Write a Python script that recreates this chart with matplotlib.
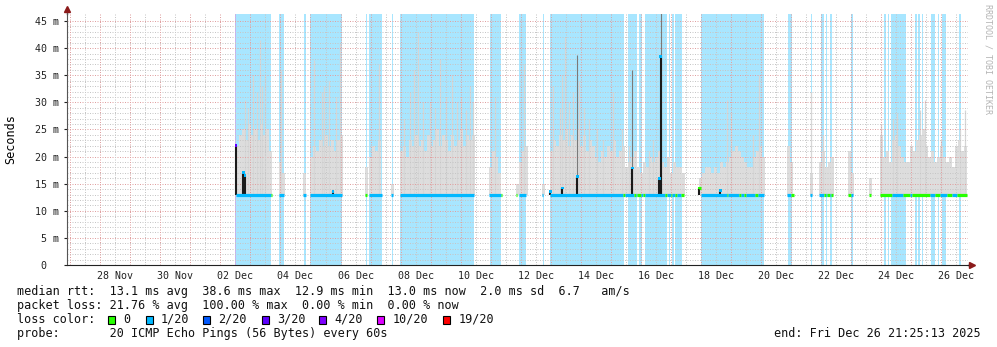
import numpy as np
import matplotlib
matplotlib.use("Agg")
import matplotlib.pyplot as plt
from matplotlib.patches import Rectangle

plt.rcParams['font.family'] = ['DejaVu Sans Mono']

# time in days since 26 Nov 2025 00:00
t_start = 0.8925   # 26 Nov 21:25:13
t_end = 30.8925    # 26 Dec 21:25:13

day_ticks = [2.5, 4.5, 6.5, 8.5, 10.5, 12.5, 14.5, 16.5, 18.5, 20.5, 22.5, 24.5, 26.5, 28.5, 30.5]
day_labels = ["28 Nov", "30 Nov", "02 Dec", "04 Dec", "06 Dec", "08 Dec", "10 Dec", "12 Dec",
              "14 Dec", "16 Dec", "18 Dec", "20 Dec", "22 Dec", "24 Dec", "26 Dec"]

ms_ticks = [0, 5, 10, 15, 20, 25, 30, 35, 40, 45]
ms_labels = ["0  ", "5 m", "10 m", "15 m", "20 m", "25 m", "30 m", "35 m", "40 m", "45 m"]

loss_labels = ["0", "1/20", "2/20", "3/20", "4/20", "10/20", "19/20"]
loss_colors = ["#26ff00", "#00b8ff", "#0059ff", "#5e00ff", "#7e00ff", "#dd00ff", "#ff0000"]

# loss bars (full height), index into loss_colors
band_start = [6.50, 6.53, 7.96, 8.78, 8.97, 10.86, 10.96, 11.70, 11.98, 14.98, 15.93, 15.99,
              16.75, 16.97, 19.56, 19.95, 20.15, 20.93, 21.05, 21.15, 21.99, 24.90, 25.67,
              25.99, 26.18, 26.29, 26.99, 28.10, 28.22, 28.33, 28.74, 29.13, 29.23, 29.37,
              29.65, 29.89, 30.04, 30.59]
band_end = [6.53, 7.68, 8.12, 8.85, 10.06, 10.89, 11.37, 11.75, 14.44, 15.34, 15.97, 16.17,
            16.79, 19.45, 19.88, 20.04, 20.88, 20.98, 21.12, 21.38, 24.10, 25.04, 25.71,
            26.09, 26.21, 26.37, 27.06, 28.17, 28.25, 28.72, 28.83, 29.20, 29.29, 29.41,
            29.80, 29.94, 30.15, 30.66]
band_loss = [3] + [1] * 37

# smoke: one value per 0.1 day starting at smoke_start, in ms
smoke_start = [6.52, 7.96, 8.75, 8.97, 10.82, 10.96, 11.68, 11.98, 14.94, 15.84, 15.93,
               16.72, 16.97, 21.92, 24.86, 25.63, 25.94, 26.89, 27.61, 27.96]
smoke_tops = [
    [22, 24, 25, 23, 26, 24, 25, 23, 26, 24, 25, 21],
    [19, 17],
    [17],
    [20, 22, 21, 23, 22, 24, 22, 23, 21, 23, 24],
    [18],
    [20, 22, 21, 23],
    [15],
    [21, 22, 20, 23, 22, 24, 22, 23, 21, 24, 22, 23, 25, 22, 24, 23, 21, 24, 22, 23, 25, 22,
     24, 23, 24],
    [18, 21, 20, 17],
    [15],
    [19, 21, 22],
    [15],
    [21, 23, 22, 24, 23, 25, 22, 24, 23, 25, 22, 24, 21, 23, 22, 20, 19, 21, 20, 22, 21, 23,
     20, 21, 22, 18, 19, 20, 21, 18, 17, 19, 18, 20, 19, 20, 21, 19, 18, 20, 17, 19, 18, 18, 17],
    [16, 17, 18, 18, 17, 18, 17, 19, 18, 19, 20, 21, 22, 21, 20, 19, 18, 18, 20, 21, 22, 20],
    [22, 19],
    [17],
    [19, 21, 18, 19, 20],
    [21, 17],
    [16],
    [24, 20, 21, 19, 23, 24, 22, 20, 19, 19, 22, 21, 23, 24, 25, 22, 20, 21, 19, 20, 22, 20,
     19, 20, 18, 22, 23, 21, 22],
]

# single tall smoke strands
peak_t = [6.82, 6.93, 7.09, 7.21, 7.32, 7.38, 7.49, 8.02, 9.11, 9.37, 9.45, 9.62, 9.85, 9.99,
          11.28, 12.10, 12.30, 12.45, 12.58, 12.75, 12.98, 13.15, 13.31, 13.52, 13.72, 13.88,
          14.02, 14.18, 14.30, 14.40, 15.13, 16.11, 17.08, 17.30, 17.39, 17.48, 17.62, 17.75,
          17.95, 18.10, 18.28, 18.55, 18.75, 19.07, 19.37, 19.61, 20.28, 20.40, 22.88, 22.99,
          23.74, 23.94, 25.67, 26.05, 27.99, 28.39, 28.53, 29.30, 29.47, 29.99, 30.63, 30.79]
peak_ms = [30.5, 29, 35, 32, 41.5, 33, 35, 36, 37.8, 32, 33, 34, 31, 41,
           37, 27, 32, 36, 43, 30, 30, 29, 38, 31, 35, 30,
           31, 28.6, 33, 30, 31, 37, 33, 29, 35, 42, 30, 32,
           34, 29, 27, 25, 23, 32, 25, 22, 21, 23, 30.4, 28,
           24, 35, 32, 24, 26, 27, 28, 28.6, 30.4, 23, 25, 28.6]

# darker strands above the median spikes
strand_t = [17.88, 19.72, 20.66]
strand_ms = [38.7, 36.0, 46.5]

# median rtt runs, loss index and value in ms
run_start = [6.52, 7.69, 7.96, 8.75, 8.97, 10.82, 10.96, 11.68, 11.98, 14.94, 15.34, 15.84,
             15.93, 16.72, 16.97, 19.42, 19.47, 19.78, 19.83, 19.87, 19.99, 20.08, 20.14,
             20.81, 20.87, 21.01, 21.05, 21.14, 21.19, 21.34, 21.92, 22.01, 22.86, 22.91,
             23.27, 23.33, 23.44, 23.49, 23.80, 23.91, 24.86, 25.00, 25.63, 25.94, 26.09,
             26.17, 26.21, 26.29, 26.33, 26.89, 26.99, 27.61, 27.96, 28.35, 28.74, 28.96,
             29.02, 29.63, 29.80, 29.96, 30.19, 30.35, 30.52]
run_end = [7.69, 7.72, 8.12, 8.85, 10.06, 10.89, 11.37, 11.75, 14.44, 15.34, 15.37, 15.88,
           16.17, 16.75, 19.42, 19.47, 19.78, 19.83, 19.87, 19.99, 20.08, 20.14, 20.81,
           20.87, 21.01, 21.05, 21.14, 21.19, 21.34, 21.45, 22.01, 22.86, 22.91, 23.27,
           23.33, 23.44, 23.49, 23.80, 23.91, 24.10, 25.00, 25.09, 25.71, 26.09, 26.17,
           26.21, 26.29, 26.33, 26.39, 26.99, 27.07, 27.65, 28.35, 28.74, 28.96, 29.02,
           29.63, 29.80, 29.96, 30.19, 30.35, 30.52, 30.85]
run_loss = [1, 0, 1, 1, 1, 0, 1, 1, 1, 1, 0, 0,
            1, 1, 1, 0, 1, 0, 1, 0, 1, 0, 1,
            0, 1, 0, 1, 0, 1, 0, 0, 1, 0, 1,
            0, 1, 0, 1, 0, 1, 1, 0, 1, 1, 0,
            1, 0, 1, 0, 0, 1, 0, 0, 1, 0, 1,
            0, 1, 0, 1, 0, 1, 0]
run_ms = [13.0] * 30 + [14.2] + [13.0] * 32

# median jumps
spike_t = [6.52, 6.76, 6.82, 9.75, 16.98, 17.39, 17.88, 19.72, 20.61, 20.66, 21.94, 22.64]
spike_ms = [22.0, 17.0, 16.5, 13.6, 13.5, 14.2, 16.3, 17.9, 16.0, 38.5, 14.2, 13.7]
spike_loss = [3, 1, 1, 1, 1, 1, 1, 1, 1, 1, 0, 1]

base = 13.0
step = 0.1

fig = plt.figure(figsize=(9.97, 3.47), dpi=100)
ax = fig.add_axes([67 / 997, 82 / 347, 901 / 997, 251 / 347])
ax.set_xlim(t_start, t_end)
ax.set_ylim(0, 46.3)

for s, e, lvl in zip(band_start, band_end, band_loss):
    ax.axvspan(s, e, color=loss_colors[lvl], alpha=0.34, lw=0, zorder=1)

for s, tops in zip(smoke_start, smoke_tops):
    x = s + step * np.arange(len(tops))
    ax.bar(x, np.array(tops) - base, bottom=base, width=step, align='edge',
           color='#dddddd', lw=0, zorder=2)
ax.vlines(peak_t, base, peak_ms, color='#d6d6d6', lw=0.9, zorder=2)

# grid
dots = (0, (1, 1.5))
for v in range(1, 46):
    col = '#e0a0a0' if v % 5 == 0 else '#c6c6c6'
    ax.axhline(v, color=col, lw=0.72, ls=dots, zorder=3)
for d in range(1, 31):
    ax.axvline(d + 0.5, color='#c6c6c6', lw=0.72, ls=dots, zorder=3)
    ax.axvline(d, color='#e0a0a0', lw=0.72, ls=dots, zorder=3)

ax.vlines(strand_t, base, strand_ms, color='#7a7a7a', lw=0.8, zorder=4)
ax.vlines(spike_t, base, spike_ms, color='#1a1a1a', lw=1.5, zorder=4)
for s, e, lvl, ms in zip(run_start, run_end, run_loss, run_ms):
    ax.hlines(ms, s, e, color=loss_colors[lvl], lw=2.3, zorder=5)
ax.scatter(spike_t, spike_ms, marker='s', s=4, lw=0, zorder=6,
           c=[loss_colors[l] for l in spike_loss])

for side in ('top', 'right'):
    ax.spines[side].set_visible(False)
ax.spines['left'].set_color('#555555')
ax.spines['bottom'].set_color('#222222')
ax.spines['left'].set_zorder(7)
ax.spines['bottom'].set_zorder(7)
ax.plot([0, 0], [1, 1.018], color='#555555', lw=1, transform=ax.transAxes, clip_on=False)
ax.plot([0], [1.018], marker='^', ms=4, color='#8b1a1a', transform=ax.transAxes, clip_on=False)
ax.plot([1, 1.004], [0, 0], color='#222222', lw=1, transform=ax.transAxes, clip_on=False)
ax.plot([1.004], [0], marker='>', ms=4, color='#8b1a1a', transform=ax.transAxes, clip_on=False)

ax.set_xticks(day_ticks, day_labels)
ax.set_yticks(ms_ticks, ms_labels)
ax.tick_params(axis='x', length=0, pad=4, labelsize=7.2, colors='#222222')
ax.tick_params(axis='y', length=2, width=0.8, pad=4, labelsize=7.2, colors='#222222')

fig.text(11 / 997, 1 - 139 / 347, "Seconds", rotation=90, ha='center', va='center', size=8.5)
fig.text(988 / 997, 1 - 59 / 347, "RRDTOOL / TOBI OETIKER", rotation=270, ha='center',
         va='center', size=6, color='#b4b4b4')

# statistics below the graph
def line(px, py, s, **kw):
    fig.text(px / 997, 1 - py / 347, s, ha=kw.pop('ha', 'left'), va='center', size=8.5,
             color='#111111', **kw)

line(16.7, 291.5, "median rtt:  13.1 ms avg  38.6 ms max  12.9 ms min  13.0 ms now  2.0 ms sd  6.7   am/s")
line(16.7, 305.5, "packet loss: 21.76 % avg  100.00 % max  0.00 % min  0.00 % now")
line(16.7, 319.5, "loss color:")
box_px = [108.3, 145.7, 203.3, 261.7, 319.3, 377.3, 443.3]
for bx, col, lab in zip(box_px, loss_colors, loss_labels):
    fig.patches.append(Rectangle((bx / 997, 1 - 323.5 / 347), 7 / 997, 8 / 347,
                                 transform=fig.transFigure, facecolor=col,
                                 edgecolor='black', lw=0.8))
    line(bx + 15, 319.5, lab)
line(16.7, 333.5, "probe:       20 ICMP Echo Pings (56 Bytes) every 60s")
line(981, 333.5, "end: Fri Dec 26 21:25:13 2025", ha='right')

fig.savefig("out.png", dpi=100)
